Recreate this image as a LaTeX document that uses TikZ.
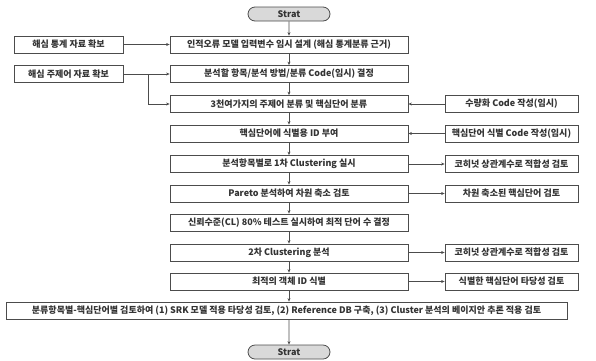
\documentclass[tikz,border=0pt]{standalone}
\usepackage{fontspec}
\setmainfont{Noto Sans CJK KR}
\usetikzlibrary{arrows.meta,shapes.misc}

\begin{document}
\begin{tikzpicture}[x=1pt,y=-1pt,
    font=\fontsize{9}{10}\selectfont\bfseries,
    >={Stealth[length=3.5pt,width=3pt]},
    link/.style={draw=black!70, line width=0.6pt, ->},
    mainbox/.style={draw=black!70, text=black!80, line width=0.8pt, minimum width=238pt, minimum height=17pt, inner sep=0pt},
    leftbox/.style={mainbox, minimum width=109pt},
    sidebox/.style={mainbox, minimum width=133pt},
    termbox/.style={draw=black!70, text=black!80, line width=0.8pt, fill=black!15, rounded rectangle, minimum width=82pt, minimum height=14pt, inner sep=0pt}]
    \useasboundingbox (0,0) rectangle (596,360);
    % flow in the middle
    \node[termbox] (start) at (289,14) {Strat};
    \node[mainbox] (design) at (289,44.5) {인적오류 모델 입력변수 임시 설계 (해심 통계분류 근거)};
    \node[mainbox] (method) at (289,74) {분석할 항목/분석 방법/분류 Code(임시) 결정};
    \node[mainbox] (classify) at (289,104) {3천여가지의 주제어 분류 및 핵심단어 분류};
    \node[mainbox] (idgive) at (289,133.5) {핵심단어에 식별용 ID 부여};
    \node[mainbox] (clustA) at (289,164) {분석항목별로 1차 Clustering 실시};
    \node[mainbox] (pareto) at (289,193.5) {Pareto 분석하여 차원 축소 검토};
    \node[mainbox] (cltest) at (289,222.5) {신뢰수준(CL) 80\% 테스트 실시하여 최적 단어 수 결정};
    \node[mainbox] (clustB) at (289,252.5) {2차 Clustering 분석};
    \node[mainbox] (objid) at (289,281.5) {최적의 객체 ID 식별};
    \node[mainbox, minimum width=561pt] (review) at (286.5,310.5) {분류항목별-핵심단어별 검토하여 (1) SRK 모델 적용 타당성 검토, (2) Reference DB 구축, (3) Cluster 분석의 베이지안 추론 적용 검토};
    \node[termbox] (stop) at (289,352) {Strat};
    % inputs on the left
    \node[leftbox] (stats) at (68.5,44.5) {해심 통계 자료 확보};
    \node[leftbox] (words) at (68.5,74) {해심 주제어 자료 확보};
    % checks on the right
    \node[sidebox] (qcode) at (511.5,104) {수량화 Code 작성(임시)};
    \node[sidebox] (idcode) at (511.5,133.5) {핵심단어 식별 Code 작성(임시)};
    \node[sidebox] (fitA) at (511.5,164) {코히넛 상관계수로 적합성 검토};
    \node[sidebox] (reduced) at (511.5,193.5) {차원 축소된 핵심단어 검토};
    \node[sidebox] (fitB) at (511.5,252.5) {코히넛 상관계수로 적합성 검토};
    \node[sidebox] (valid) at (511.5,281.5) {식별한 핵심단어 타당성 검토};
    \coordinate (fork) at (148,74);

    \draw[link] (start) -- (design);
    \draw[link] (design) -- (method);
    \draw[link] (method) -- (classify);
    \draw[link] (classify) -- (idgive);
    \draw[link] (idgive) -- (clustA);
    \draw[link] (clustA) -- (pareto);
    \draw[link] (pareto) -- (cltest);
    \draw[link] (cltest) -- (clustB);
    \draw[link] (clustB) -- (objid);
    \draw[link] (objid) -- (objid |- review.north);
    \draw[link] (review.south -| stop) -- (stop);

    \draw[link] (stats) -- (design);
    \draw[link] (words) -- (method);
    \draw[link] (fork) |- (classify);
    \draw[link] (qcode) -- (classify);
    \draw[link] (idcode) -- (idgive);
    \draw[link] (clustA) -- (fitA);
    \draw[link] (pareto) -- (reduced);
    \draw[link] (clustB) -- (fitB);
    \draw[link] (objid) -- (valid);
\end{tikzpicture}
\end{document}
